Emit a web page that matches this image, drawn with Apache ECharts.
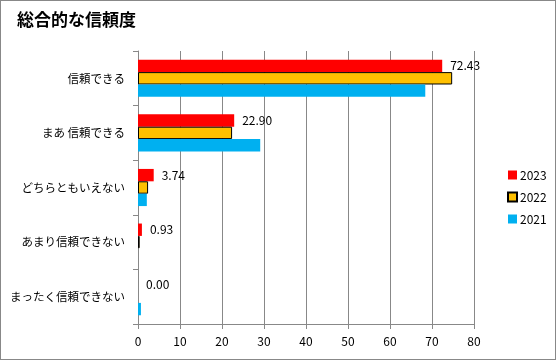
<!DOCTYPE html>
<html><head><meta charset="utf-8">
<script src="https://cdn.jsdelivr.net/npm/echarts@6/dist/echarts.min.js"></script>
<style>
html,body{margin:0;padding:0;background:#fff;}
#c{width:556px;height:360px;}
#frame{position:absolute;left:0;top:0;width:554px;height:358px;border:1px solid #888;pointer-events:none;}
</style></head>
<body><div id="c"></div><div id="frame"></div>
<script>
const categories = ['信頼できる','まあ 信頼できる','どちらともいえない','あまり信頼できない','まったく信頼できない'];
const seriesNames = ['2023','2022','2021'];
const values2023 = [72.43, 22.90, 3.74, 0.93, 0.00];
const values2022 = [74.8, 22.4, 2.4, 0.4, null];
const values2021 = [68.4, 29.1, 2.1, 0.0, 0.7];
const xTicks = [0, 10, 20, 30, 40, 50, 60, 70, 80];

const font = '"Noto Sans CJK JP", "Noto Sans", sans-serif';
const chart = echarts.init(document.getElementById('c'), null, {renderer:'canvas'});
chart.setOption({
  animation:false,
  title:{text:'総合的な信頼度', left:12, top:6, textStyle:{fontFamily:font, fontSize:17, fontWeight:'bold', color:'#000'}},
  legend:{
    orient:'vertical', left:502, top:164, itemWidth:9, itemHeight:9, itemGap:10,
    data:seriesNames, icon:'rect',
    textStyle:{fontFamily:font, fontSize:12, color:'#000', padding:[0,0,0,-2]}
  },
  grid:{left:138, right:82, top:51, bottom:36},
  xAxis:{
    type:'value', min:xTicks[0], max:xTicks[xTicks.length-1], interval:10,
    axisLine:{show:true, lineStyle:{color:'#888'}},
    axisTick:{show:true, length:5, lineStyle:{color:'#888'}},
    splitLine:{show:true, lineStyle:{color:'#888'}},
    axisLabel:{fontFamily:font, fontSize:12, color:'#000', margin:11}
  },
  yAxis:{
    type:'category', data:categories, inverse:true,
    axisLine:{show:true, lineStyle:{color:'#888'}},
    axisTick:{show:true, length:5, lineStyle:{color:'#888'}},
    axisLabel:{fontFamily:font, fontSize:11.5, color:'#000', margin:13}
  },
  series:[
    {name:seriesNames[0], type:'bar', data:values2023, barGap:'0%', barCategoryGap:'32%',
     itemStyle:{color:'#ff0000'},
     label:{show:true, position:'right', distance:8, formatter:p=>p.value.toFixed(2), fontFamily:font, fontSize:12, color:'#000'}},
    {name:seriesNames[1], type:'bar', data:values2022, barGap:'0%', barCategoryGap:'32%',
     itemStyle:{color:'#ffc000', borderColor:'#000', borderWidth:1}},
    {name:seriesNames[2], type:'bar', data:values2021, barGap:'0%', barCategoryGap:'32%',
     itemStyle:{color:'#00b0f0'}}
  ]
});
</script></body></html>
